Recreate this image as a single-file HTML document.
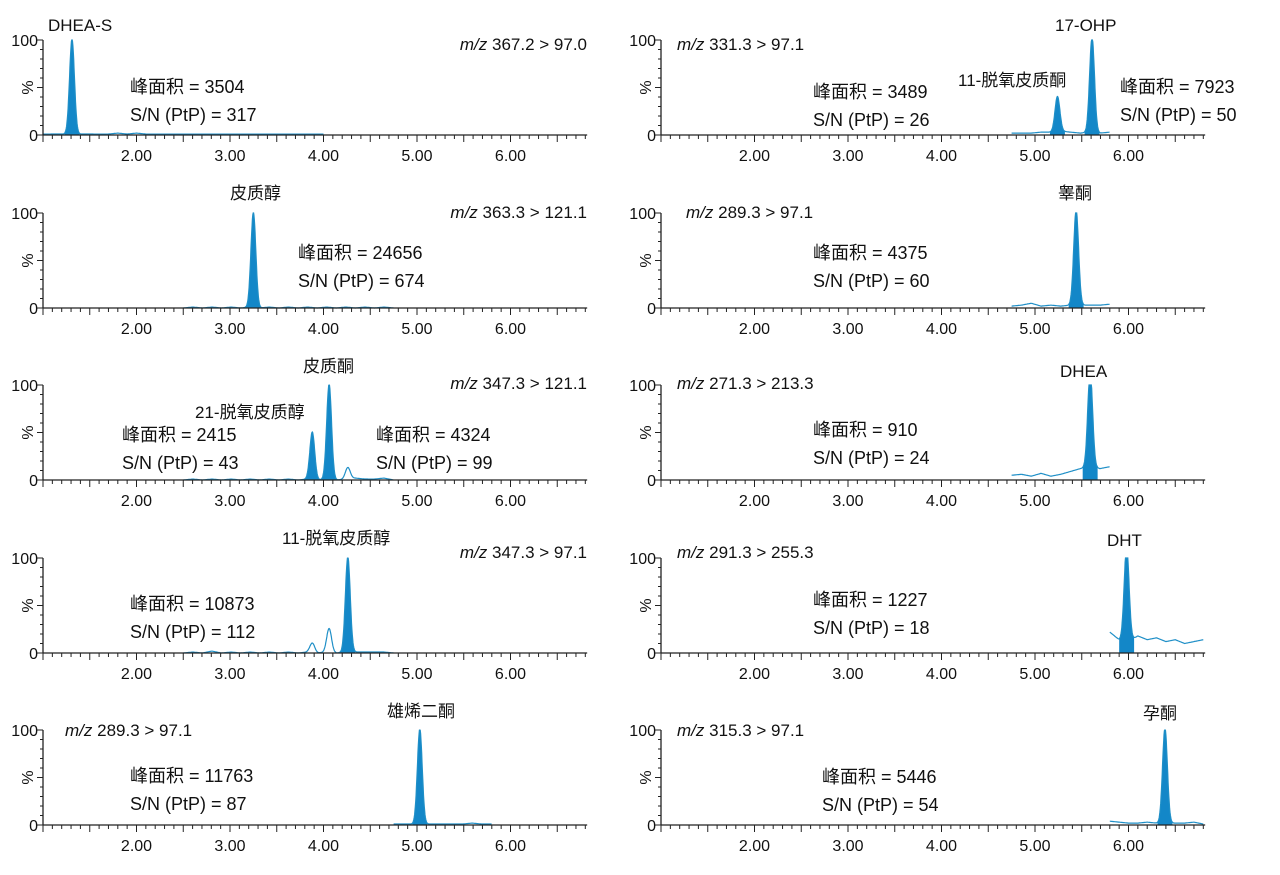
<!DOCTYPE html>
<html><head><meta charset="utf-8">
<style>
body{margin:0;background:#fff;}
svg{display:block;font-family:"Liberation Sans","Noto Sans CJK SC",sans-serif;}
</style></head>
<body>
<svg id="c" width="1280" height="875" viewBox="0 0 1280 875"></svg>
<script>
// ---- data ----
const panelNames = ["dhea-s","cortisol","corticosterone","11-deoxycortisol","androstenedione","17-ohp","testosterone","dhea","dht","progesterone"];
const panelCols = [0,0,0,0,0,1,1,1,1,1];
const panelRows = [0,1,2,3,4,0,1,2,3,4];
const peakRT = [[1.31],[3.25],[3.88,4.06,4.26],[3.88,4.06,4.26],[5.03],[5.24,5.61],[5.44],[5.59],[5.98],[6.39]];
const peakH = [[100],[100],[50,100,12],[10,25,100],[100],[37,100],[100],[100],[100],[100]];
const peakFilled = [[1],[1],[1,1,0],[0,0,1],[1],[1,1],[1],[1],[1],[1]];
const traceStart = [1.0,2.5,2.5,2.5,4.75,4.75,4.75,4.75,5.8,5.8];
const traceEnd = [4.0,4.75,4.75,4.75,5.8,5.8,5.8,5.8,6.8,6.8];
const noise = [
 [1,1,1,1,1,1,1,1,2,1,2,1,1,1,1,1,1,1,1,1,1,1,1,1,1,1,1,1,1,1,1],
 [0,1,0,1,0,1,0,1,0,1,0,1,0,1,0,1,0,1,0,1,0,1,0],
 [0,1,0,1,0,1,0,1,0,1,0,1,0,1,0,1,0,1,2,1,1,2,0],
 [0,1,0,2,0,1,0,1,0,1,0,1,0,1,0,1,0,1,1,1,1,1,0],
 [1,1,1,1,1,1,1,1,2,1,1],
 [2,2,2,3,3,4,3,2,3,2,3],
 [2,3,5,2,3,2,3,3,3,3,4],
 [5,6,4,7,4,6,9,12,14,12,14],
 [22,14,12,18,14,16,12,14,10,12,14],
 [4,3,2,2,3,2,2,2,2,3,1]
];
const names = ["DHEA-S","皮质醇","皮质酮","11-脱氧皮质醇","雄烯二酮","17-OHP","睾酮","DHEA","DHT","孕酮"];
const mzText = ["367.2 > 97.0","363.3 > 121.1","347.3 > 121.1","347.3 > 97.1","289.3 > 97.1","331.3 > 97.1","289.3 > 97.1","271.3 > 213.3","291.3 > 255.3","315.3 > 97.1"];
const areaVals = [["3504"],["24656"],["2415","4324"],["10873"],["11763"],["3489","7923"],["4375"],["910"],["1227"],["5446"]];
const snVals = [["317"],["674"],["43","99"],["112"],["87"],["26","50"],["60"],["24"],["18"],["54"]];
const xTicks = [2,3,4,5,6];
const xTickLabels = ["2.00","3.00","4.00","5.00","6.00"];
const yTickLabels = ["0","100"];

// ---- layout ----
const colX0 = [43,661], pxPerUnit = 93.5, xMin = 1.0, xMax = 6.82;
const rowTop = [40,213,385,558,730], plotH = 95;
const nameAt = [[48,31],[230,199],[303,372],[282,544],[387,717],[1055,31],[1058,199],[1060,377],[1107,546],[1143,719]];
const mzAt = [[587,50,"end"],[587,218,"end"],[587,389,"end"],[587,558,"end"],[65,736,"start"],[677,50,"start"],[686,218,"start"],[677,389,"start"],[677,558,"start"],[677,736,"start"]];
const txtAt = [[[130,93]],[[298,259]],[[122,441],[376,441]],[[130,610]],[[130,782]],[[813,98],[1120,93]],[[813,259]],[[813,436]],[[813,606]],[[822,783]]];
const extraLabels = [[2,"21-脱氧皮质醇",195,418],[5,"11-脱氧皮质酮",958,86]];

const NS="http://www.w3.org/2000/svg", svg=document.getElementById('c');
function mk(t,a,p){const e=document.createElementNS(NS,t);for(const k in a)e.setAttribute(k,a[k]);(p||svg).appendChild(e);return e;}
function txt(s,x,y,anchor,p,fs){const e=mk('text',{x:x,y:y,'font-size':fs||16,fill:'#111','text-anchor':anchor||'start'},p);e.textContent=s;return e;}

for(let i=0;i<10;i++){
  const g=mk('g',{});
  
  
  const x0=colX0[panelCols[i]], top=rowTop[panelRows[i]], base=top+plotH;
  const sx=v=>x0+(v-xMin)*pxPerUnit, sy=v=>base-v/100*plotH;
  const pts=[]; const n=noise[i];
  const step=0.004;
  function val(t){
    const f=(t-traceStart[i])/(traceEnd[i]-traceStart[i])*(n.length-1);
    const k=Math.max(0,Math.min(n.length-2,Math.floor(f))), r=f-k;
    let v=n[k]*(1-r)+n[k+1]*r;
    for(let j=0;j<peakRT[i].length;j++){const d=(t-peakRT[i][j])/0.026;v+=peakH[i][j]*Math.exp(-d*d/2);}
    return Math.min(v,100);
  }
  for(let t=traceStart[i];t<=traceEnd[i]+1e-9;t+=step)pts.push([t,val(t)]);
  for(let j=0;j<peakRT[i].length;j++){
    if(!peakFilled[i][j])continue;
    const a=peakRT[i][j]-0.08,b=peakRT[i][j]+0.08;
    let d='M'+sx(a)+','+base;
    for(let t=a;t<=b;t+=step)d+=' L'+sx(t).toFixed(1)+','+sy(val(t)).toFixed(1);
    d+=' L'+sx(b)+','+base+'Z';
    const pk=mk('path',{d:d,fill:'#1387c8'},g);
    
    
  }
  const ln=mk('polyline',{points:pts.map(p=>sx(p[0]).toFixed(1)+','+sy(p[1]).toFixed(1)).join(' '),fill:'none',stroke:'#1f8fc7','stroke-width':1.2},g);
  
  
  mk('line',{x1:x0,y1:top,x2:x0,y2:base,stroke:'#222','stroke-width':1.3},g);
  const xa=mk('line',{x1:x0,y1:base,x2:sx(xMax),y2:base,stroke:'#222','stroke-width':1.3},g);
  
  
  for(let k=0;k<=58;k++){const v=xMin+k*0.1;const xx=sx(v);const major=Math.abs(v*2-Math.round(v*2))<0.01;
    mk('line',{x1:xx,y1:base,x2:xx,y2:base+(major?7:4),stroke:'#222','stroke-width':1},g);}
  for(let k=0;k<=10;k++){const yy=base-k*plotH/10;mk('line',{x1:x0-(k%5==0?6:3),y1:yy,x2:x0,y2:yy,stroke:'#222','stroke-width':1},g);}
  for(let k=0;k<xTicks.length;k++){const tl=txt(xTickLabels[k],sx(xTicks[k]),base+26,'middle',g);
    
    }
  txt(yTickLabels[0],x0-5,base+6,'end',g);
  txt(yTickLabels[1],x0-5,top+6,'end',g);
  const pc=txt('%',0,0,'middle',g);pc.setAttribute('transform','translate('+(x0-10)+','+(top+plotH/2)+') rotate(-90)');
  
  
  const nm=txt(names[i],nameAt[i][0],nameAt[i][1],'start',g,17);
  
  
  const mz=mk('text',{x:mzAt[i][0],y:mzAt[i][1],'font-size':17,fill:'#111','text-anchor':mzAt[i][2]},g);
  
  
  const it=mk('tspan',{'font-style':'italic'},mz);it.textContent='m/z';
  const rs=mk('tspan',{},mz);rs.textContent=' '+mzText[i];
  for(let j=0;j<txtAt[i].length;j++){
    const a=txt('峰面积 = '+areaVals[i][j],txtAt[i][j][0],txtAt[i][j][1],'start',g,18);
    
    
    const s=txt('S/N (PtP) = '+snVals[i][j],txtAt[i][j][0],txtAt[i][j][1]+28,'start',g,18);
    
    
  }
}
for(const e of extraLabels){const t=txt(e[1],e[2],e[3],'start',undefined,17);
  
  }
</script>
</body></html>
